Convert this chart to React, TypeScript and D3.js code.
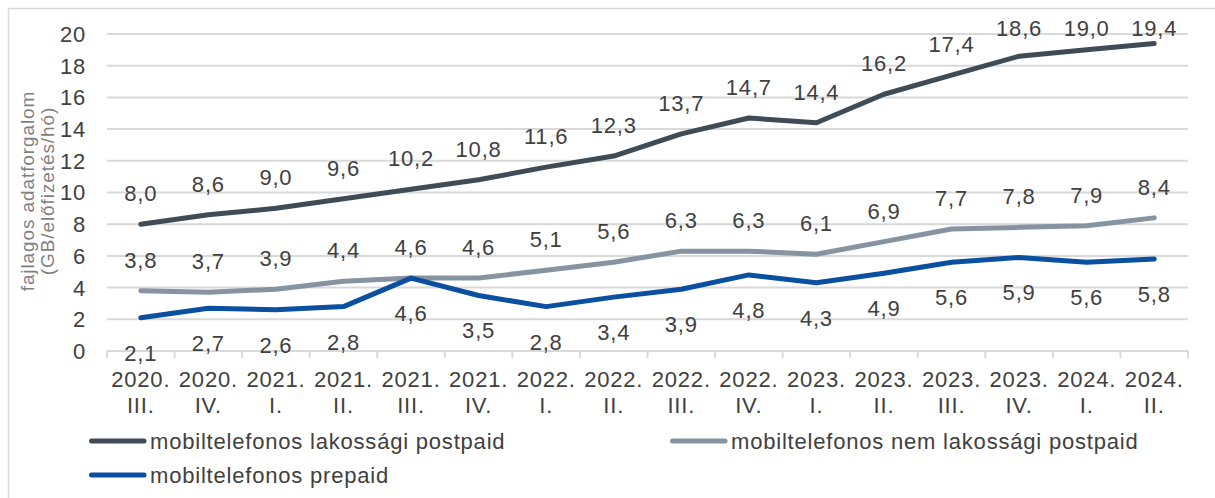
import React from "react";
import * as d3 from "d3";

const years = ["2020.", "2020.", "2021.", "2021.", "2021.", "2021.", "2022.", "2022.", "2022.", "2022.", "2023.", "2023.", "2023.", "2023.", "2024.", "2024."];
const quarters = ["III.", "IV.", "I.", "II.", "III.", "IV.", "I.", "II.", "III.", "IV.", "I.", "II.", "III.", "IV.", "I.", "II."];
const lakossagi = [8.0, 8.6, 9.0, 9.6, 10.2, 10.8, 11.6, 12.3, 13.7, 14.7, 14.4, 16.2, 17.4, 18.6, 19.0, 19.4];
const nemLakossagi = [3.8, 3.7, 3.9, 4.4, 4.6, 4.6, 5.1, 5.6, 6.3, 6.3, 6.1, 6.9, 7.7, 7.8, 7.9, 8.4];
const prepaid = [2.1, 2.7, 2.6, 2.8, 4.6, 3.5, 2.8, 3.4, 3.9, 4.8, 4.3, 4.9, 5.6, 5.9, 5.6, 5.8];
const yTicks = [0, 2, 4, 6, 8, 10, 12, 14, 16, 18, 20];
const seriesNames = ["mobiltelefonos lakossági postpaid", "mobiltelefonos nem lakossági postpaid", "mobiltelefonos prepaid"];
const yTitle = ["fajlagos adatforgalom", "(GB/előfizetés/hó)"];

const W = 1215;
const H = 498;
const left = 107;
const right = 1188;
const top = 34;
const bottom = 351;
const FONT = "'Liberation Sans', Arial, sans-serif";
const TEXT = "#404040";

export default function App() {
  const idx = d3.range(years.length);
  const x = d3.scaleBand<number>().domain(idx).range([left, right]);
  const y = d3.scaleLinear().domain([0, 20]).range([bottom, top]);
  const cx = (i: number) => (x(i) as number) + x.bandwidth() / 2;
  const line = d3.line<number>().x((_, i) => cx(i)).y((d) => y(d));

  const series = [
    { name: seriesNames[0], data: lakossagi, color: "#3f4b55", pos: "above" },
    { name: seriesNames[1], data: nemLakossagi, color: "#8693a0", pos: "above" },
    { name: seriesNames[2], data: prepaid, color: "#0b4fa0", pos: "below" },
  ];

  const fmt = (v: number) => v.toFixed(1).replace(".", ",");
  const labelY = (v: number, pos: string) => (pos === "above" ? Math.max(y(v) - 31, 28) : y(v) + 35);

  const legend = [
    { s: series[0], x: 89, y: 441 },
    { s: series[1], x: 670, y: 441 },
    { s: series[2], x: 89, y: 475 },
  ];

  const tickXs = d3.range(years.length + 1).map((i) => left + i * x.step());

  return (
    <svg width={W} height={H} style={{ position: "absolute", left: 0, top: 0, background: "#fff" }} fontFamily={FONT}>
      <rect x={8.5} y={8.5} width={W + 20} height={H + 20} fill="#fff" stroke="#d9d9d9" strokeWidth={1.5} />
      {yTicks.map((t) => (
        <g key={t}>
          {t !== 0 && <line x1={left} x2={right} y1={y(t)} y2={y(t)} stroke="#d9d9d9" strokeWidth={2} />}
          <text x={86} y={y(t)} dy="0.36em" textAnchor="end" fontSize={22} letterSpacing={0.8} fill={TEXT}>{t}</text>
        </g>
      ))}
      <line x1={left} x2={right} y1={bottom} y2={bottom} stroke="#d9d9d9" strokeWidth={2} />
      {tickXs.map((tx, i) => (
        <line key={i} x1={tx} x2={tx} y1={bottom} y2={bottom + 7} stroke="#d9d9d9" strokeWidth={2} />
      ))}
      {idx.map((i) => (
        <g key={i}>
          <text x={cx(i)} y={387} textAnchor="middle" fontSize={22} letterSpacing={0.8} fill={TEXT}>{years[i]}</text>
          <text x={cx(i)} y={413} textAnchor="middle" fontSize={22} letterSpacing={0.8} fill={TEXT}>{quarters[i]}</text>
        </g>
      ))}
      <g transform="translate(27,191) rotate(-90)">
        <text x={0} y={0} dy="0.35em" textAnchor="middle" fontSize={19} letterSpacing={0.9} fill="#7f7f7f">{yTitle[0]}</text>
      </g>
      <g transform="translate(47,191) rotate(-90)">
        <text x={0} y={0} dy="0.35em" textAnchor="middle" fontSize={19} letterSpacing={0.9} fill="#7f7f7f">{yTitle[1]}</text>
      </g>
      {series.map((s) => (
        <path key={s.name} d={line(s.data) as string} fill="none" stroke={s.color} strokeWidth={5} strokeLinejoin="round" strokeLinecap="round" />
      ))}
      {series.map((s) =>
        s.data.map((v, i) => (
          <text key={s.name + i} x={cx(i)} y={labelY(v, s.pos)} dy="0.36em" textAnchor="middle" fontSize={22} letterSpacing={0.8} fill={TEXT}>
            {fmt(v)}
          </text>
        ))
      )}
      {legend.map((l) => (
        <g key={l.s.name}>
          <line x1={l.x + 2.5} x2={l.x + 55} y1={l.y} y2={l.y} stroke={l.s.color} strokeWidth={5} strokeLinecap="round" />
          <text x={l.x + 61} y={l.y} dy="0.36em" fontSize={22} letterSpacing={0.8} fill={TEXT}>{l.s.name}</text>
        </g>
      ))}
    </svg>
  );
}
